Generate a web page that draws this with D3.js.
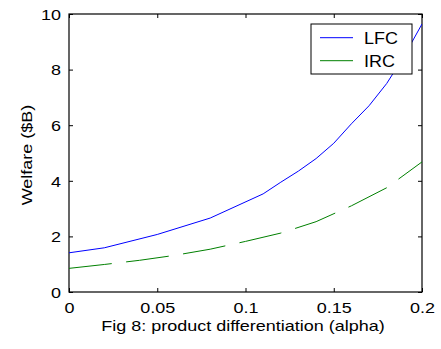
<!DOCTYPE html>
<html>
<head>
<meta charset="utf-8">
<script src="https://cdn.jsdelivr.net/npm/d3@7"></script>
<style>
  html, body { margin: 0; padding: 0; background: #fff; }
  svg { display: block; }
  text { font-family: "Liberation Sans", Arial, Helvetica, sans-serif; fill: #000; }
</style>
</head>
<body>
<svg id="chart" width="441" height="349"></svg>
<script>
// Product differentiation parameter (alpha) and welfare in $B
const alphaLFC = [0, 0.02, 0.05, 0.08, 0.11, 0.12, 0.13, 0.14, 0.15, 0.16, 0.17, 0.18, 0.19, 0.2];
const welfareLFC = [1.41, 1.59, 2.07, 2.66, 3.53, 3.95, 4.35, 4.8, 5.35, 6.05, 6.7, 7.5, 8.5, 9.64];

const alphaIRC = [0, 0.02, 0.04, 0.06, 0.08, 0.1, 0.12, 0.14, 0.16, 0.18, 0.2];
const welfareIRC = [0.85, 0.99, 1.14, 1.32, 1.54, 1.82, 2.12, 2.53, 3.1, 3.75, 4.68];

const xTicks = [0, 0.05, 0.1, 0.15, 0.2];
const xTickLabels = ["0", "0.05", "0.1", "0.15", "0.2"];
const yTicks = [0, 2, 4, 6, 8, 10];
const yTickLabels = ["0", "2", "4", "6", "8", "10"];

const seriesNames = ["LFC", "IRC"];
const seriesColors = ["#0000ff", "#008000"];

const xTitle = "Fig 8: product differentiation (alpha)";
const yTitle = "Welfare ($B)";

// Plot frame
const L = 69, R = 422, T = 14, B = 292;
const svg = d3.select("#chart");

const x = d3.scaleLinear().domain([0, 0.2]).range([L, R]);
const y = d3.scaleLinear().domain([0, 10]).range([B, T]);

const FS = 18;           // font size
const SQ = 0.8;          // vertical squash of glyphs

svg.append("defs").append("clipPath").attr("id", "plotclip")
  .append("rect").attr("x", L).attr("y", T).attr("width", R - L).attr("height", B - T);

// Ticks pointing inward on all four sides
function tickAxis(axis, tx, ty) {
  const g = svg.append("g").attr("transform", `translate(${tx},${ty})`).call(axis);
  g.select(".domain").remove();
  g.selectAll("line").attr("stroke", "#000").attr("stroke-width", 1);
  return g;
}
const gx = tickAxis(d3.axisBottom(x).tickValues(xTicks).tickSizeInner(-4).tickSizeOuter(0)
  .tickFormat((d, i) => xTickLabels[i]), 0, B);
tickAxis(d3.axisTop(x).tickValues(xTicks).tickSizeInner(-4).tickSizeOuter(0).tickFormat(""), 0, T);
const gy = tickAxis(d3.axisLeft(y).tickValues(yTicks).tickSizeInner(-4).tickSizeOuter(0)
  .tickFormat((d, i) => yTickLabels[i]), L, 0);
tickAxis(d3.axisRight(y).tickValues(yTicks).tickSizeInner(-4).tickSizeOuter(0).tickFormat(""), R, 0);

gx.selectAll("text")
  .attr("y", null).attr("dy", null)
  .attr("font-size", FS).attr("font-family", null)
  .attr("text-anchor", "middle")
  .attr("transform", `translate(0,21.3) scale(1,${SQ})`);

gy.selectAll("text")
  .attr("x", null).attr("dy", null)
  .attr("font-size", FS).attr("font-family", null)
  .attr("text-anchor", "end")
  .attr("transform", `translate(-8,5.2) scale(1,${SQ})`);

// Axes box
svg.append("rect")
  .attr("x", L).attr("y", T).attr("width", R - L).attr("height", B - T)
  .attr("fill", "none").attr("stroke", "#000").attr("stroke-width", 1.2);

// Series lines
const line = d3.line().x(d => x(d[0])).y(d => y(d[1]));
const plot = svg.append("g").attr("clip-path", "url(#plotclip)");

plot.append("path")
  .datum(alphaLFC.map((a, i) => [a, welfareLFC[i]]))
  .attr("d", line)
  .attr("fill", "none").attr("stroke", seriesColors[0]).attr("stroke-width", 1);

plot.append("path")
  .datum(alphaIRC.map((a, i) => [a, welfareIRC[i]]))
  .attr("d", line)
  .attr("fill", "none").attr("stroke", seriesColors[1]).attr("stroke-width", 1)
  .attr("stroke-dasharray", "43,14.5");

// Axis titles
svg.append("text")
  .attr("text-anchor", "middle").attr("font-size", FS)
  .attr("transform", `translate(243,331) scale(1,${SQ})`)
  .text(xTitle);

svg.append("text")
  .attr("text-anchor", "middle").attr("font-size", FS)
  .attr("transform", `translate(32,155) rotate(-90) scale(1,${SQ})`)
  .text(yTitle);

// Legend
const lg = svg.append("g");
lg.append("rect")
  .attr("x", 311).attr("y", 24).attr("width", 101).attr("height", 50)
  .attr("fill", "#fff").attr("stroke", "#000").attr("stroke-width", 1);
const legendY = [37.7, 60.7];
seriesNames.forEach((name, i) => {
  lg.append("line")
    .attr("x1", 320).attr("x2", 353).attr("y1", legendY[i]).attr("y2", legendY[i])
    .attr("stroke", seriesColors[i]).attr("stroke-width", 1);
  lg.append("text")
    .attr("font-size", FS)
    .attr("transform", `translate(364,${legendY[i] + 6.5}) scale(1,0.9)`)
    .text(name);
});
</script>
</body>
</html>
